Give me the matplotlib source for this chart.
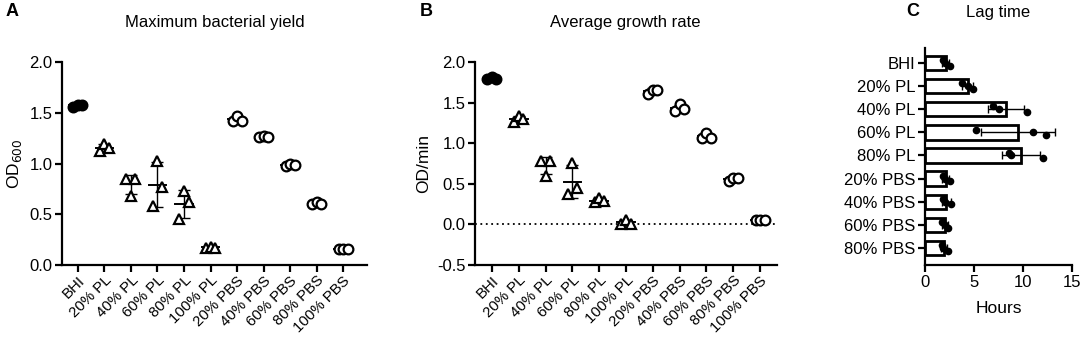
import numpy as np
import matplotlib
matplotlib.use("Agg")
import matplotlib.pyplot as plt

plt.rcParams['font.family'] = ['Liberation Sans', 'DejaVu Sans']

# ---- data ----
groups_ab = ["BHI", "20% PL", "40% PL", "60% PL", "80% PL", "100% PL",
             "20% PBS", "40% PBS", "60% PBS", "80% PBS", "100% PBS"]
marker_ab = ["o", "^", "^", "^", "^", "^", "o", "o", "o", "o", "o"]
filled_ab = [True] + [False] * 10

yield_od = [
    [1.56, 1.58, 1.58],
    [1.12, 1.19, 1.15],
    [0.85, 0.68, 0.85],
    [0.58, 1.02, 0.77],
    [0.45, 0.73, 0.62],
    [0.17, 0.18, 0.17],
    [1.42, 1.47, 1.42],
    [1.26, 1.27, 1.26],
    [0.98, 1.00, 0.99],
    [0.60, 0.62, 0.60],
    [0.16, 0.16, 0.16],
]

growth_rate = [
    [1.79, 1.82, 1.79],
    [1.26, 1.34, 1.30],
    [0.78, 0.60, 0.78],
    [0.37, 0.76, 0.45],
    [0.27, 0.32, 0.29],
    [0.01, 0.06, 0.01],
    [1.60, 1.66, 1.66],
    [1.40, 1.48, 1.42],
    [1.06, 1.13, 1.07],
    [0.53, 0.57, 0.57],
    [0.05, 0.05, 0.05],
]

groups_c = ["BHI", "20% PL", "40% PL", "60% PL", "80% PL",
            "20% PBS", "40% PBS", "60% PBS", "80% PBS"]
lag_hours = [
    [1.8, 2.0, 2.5],
    [3.8, 4.4, 4.9],
    [6.9, 7.5, 10.4],
    [5.2, 11.0, 12.3],
    [8.6, 8.8, 12.0],
    [1.8, 2.0, 2.5],
    [1.8, 2.0, 2.7],
    [1.7, 2.0, 2.3],
    [1.7, 1.8, 2.3],
]

W, H = 1084, 340
fig = plt.figure(figsize=(W / 100, H / 100), dpi=100)

def ax_px(x0, y0, x1, y1):
    return fig.add_axes([x0 / W, 1 - y1 / H, (x1 - x0) / W, (y1 - y0) / H])

FS = 12
FS_CAT = 10.8
LW = 1.6

def style(ax):
    for s in ("top", "right"):
        ax.spines[s].set_visible(False)
    for s in ("left", "bottom"):
        ax.spines[s].set_linewidth(LW)
    ax.tick_params(width=LW, length=5, labelsize=FS, color="black", pad=2)

def scatter_panel(ax, data):
    offs = [-0.17, 0.0, 0.17]
    for i, vals in enumerate(data):
        vals = np.array(vals)
        m, sd = vals.mean(), vals.std(ddof=1)
        ax.errorbar([i], [m], yerr=[sd], fmt="none", ecolor="black",
                    elinewidth=1.0, capsize=4, capthick=1.0, zorder=2)
        ax.plot([i - 0.33, i + 0.33], [m, m], color="black", lw=1.4, zorder=2)
        for k, v in enumerate(vals):
            ax.plot(i + offs[k], v, marker=marker_ab[i], ms=7,
                    mfc="black" if filled_ab[i] else "white",
                    mec="black", mew=1.6, ls="none", zorder=3)
    ax.set_xticks(range(len(groups_ab)))
    ax.set_xticklabels(groups_ab, rotation=45, ha="right",
                       rotation_mode="anchor", fontsize=FS_CAT)
    ax.tick_params(axis="x", pad=1)

# Panel A
axA = ax_px(62, 62, 367, 265)
style(axA)
scatter_panel(axA, yield_od)
axA.set_xlim(-0.6, 10.9)
axA.set_ylim(0, 2.0)
axA.set_yticks([0, 0.5, 1.0, 1.5, 2.0])
axA.set_yticklabels(["0.0", "0.5", "1.0", "1.5", "2.0"])
axA.set_ylabel("OD$_{600}$", fontsize=FS + 0.5, labelpad=4)
fig.text(215 / W, 1 - 22 / H, "Maximum bacterial yield", ha="center",
         va="center", fontsize=FS)
fig.text(6 / W, 1 - 12 / H, "A", ha="left", va="center", fontsize=13,
         fontweight="bold")

# Panel B
axB = ax_px(475, 62, 777, 265)
style(axB)
scatter_panel(axB, growth_rate)
axB.axhline(0, color="black", lw=1.3, ls=(0, (1, 2)), zorder=1)
axB.set_xlim(-0.63, 10.63)
axB.set_ylim(-0.5, 2.0)
axB.set_yticks([-0.5, 0, 0.5, 1.0, 1.5, 2.0])
axB.set_yticklabels(["-0.5", "0.0", "0.5", "1.0", "1.5", "2.0"])
axB.set_ylabel("OD/min", fontsize=FS + 0.5, labelpad=4)
fig.text(625 / W, 1 - 22 / H, "Average growth rate", ha="center",
         va="center", fontsize=FS)
fig.text(420 / W, 1 - 12 / H, "B", ha="left", va="center", fontsize=13,
         fontweight="bold")

# Panel C
axC = ax_px(925, 48, 1072, 265)
style(axC)
yj = [-0.12, 0.0, 0.12]
for i, vals in enumerate(lag_hours):
    vals = np.array(vals)
    m, sd = vals.mean(), vals.std(ddof=1)
    axC.barh(i, m, height=0.62, color="white", edgecolor="black",
             linewidth=2.0, zorder=1)
    axC.errorbar([m], [i], xerr=[sd], fmt="none", ecolor="black",
                 elinewidth=1.0, capsize=3, capthick=1.0, zorder=2)
    axC.plot(vals, [i + d for d in yj], "o", color="black", ms=4.5, zorder=3)
axC.set_yticks(range(len(groups_c)))
axC.set_yticklabels(groups_c, fontsize=FS)
axC.set_ylim(8.74, -0.65)
axC.set_xlim(0, 15)
axC.set_xticks([0, 5, 10, 15])
axC.set_xlabel("Hours", fontsize=FS + 0.5, labelpad=8)
fig.text(998 / W, 1 - 12 / H, "Lag time", ha="center", va="center",
         fontsize=FS)
fig.text(906 / W, 1 - 12 / H, "C", ha="left", va="center", fontsize=13,
         fontweight="bold")

fig.savefig("out.png", dpi=100)
